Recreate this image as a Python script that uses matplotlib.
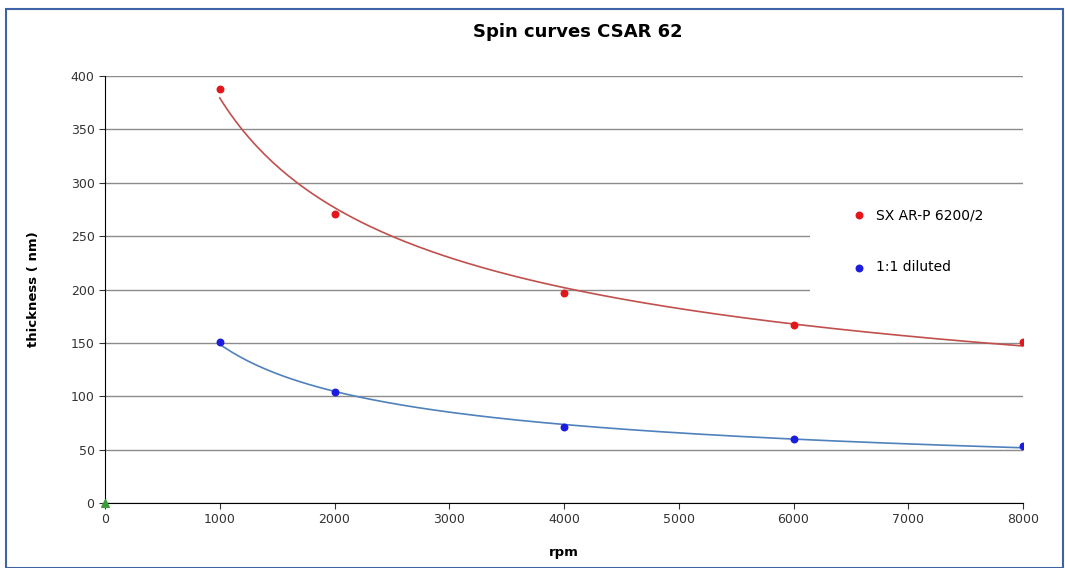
import numpy as np
import matplotlib
matplotlib.use("Agg")
import matplotlib.pyplot as plt
from matplotlib.patches import Rectangle

# measured spin curve points
rpm = [1000, 2000, 4000, 6000, 8000]
thick_full = [388, 271, 197, 167, 151]
thick_diluted = [151, 104, 71, 60, 53]
origin_x = [0]
origin_y = [0]

fig = plt.figure(figsize=(10.65, 5.68), dpi=100)
ax = fig.add_axes([0.0986, 0.1144, 0.862, 0.7518])

# power-law trend lines (like the spreadsheet trendline)
xs = np.linspace(1000, 8000, 200)
for y, col in [(thick_full, "#C0504D"), (thick_diluted, "#4F81BD")]:
    b, a = np.polyfit(np.log(rpm), np.log(y), 1)
    ax.plot(xs, np.exp(a) * xs ** b, color=col, lw=1.2, zorder=3)

ax.scatter(rpm, thick_full, s=22, color="#E3161B", zorder=4, label="SX AR-P 6200/2")
ax.scatter(rpm, thick_diluted, s=22, color="#1C1CE0", zorder=4, label="1:1 diluted")
ax.scatter(origin_x, origin_y, s=30, marker="^", color="#3C9A3C", zorder=5, clip_on=False)

ax.set_xlim(0, 8000)
ax.set_ylim(0, 400)
ax.set_xticks(range(0, 8001, 1000))
ax.set_yticks(range(0, 401, 50))
ax.yaxis.grid(True, color="#8C8C8C", lw=1)
ax.set_axisbelow(True)
for s in ["top", "right"]:
    ax.spines[s].set_visible(False)
ax.spines["left"].set_color("black")
ax.spines["bottom"].set_color("black")
ax.tick_params(labelsize=9, length=4, colors="#333333")

ax.set_xlabel("rpm", fontsize=9.5, fontweight="bold", labelpad=14)
ax.set_ylabel("thickness ( nm)", fontsize=9.5, fontweight="bold", labelpad=22)
fig.text(0.543, 0.944, "Spin curves CSAR 62", fontsize=13, fontweight="bold",
         ha="center", va="center")

# white legend area hiding the gridlines behind it
ax.add_patch(Rectangle((0.768, 0.47), 0.26, 0.25, transform=ax.transAxes,
                       facecolor="white", edgecolor="none", zorder=1, clip_on=False))

leg = ax.legend(loc="upper left", bbox_to_anchor=(0.8065, 0.707), borderaxespad=0,
                frameon=False, fontsize=10, labelspacing=2.75, handletextpad=0.7,
                borderpad=0.5, markerscale=1.0, handlelength=1.0)
leg.set_zorder(2.5)

fig.patches.append(Rectangle((0.006, 0.0), 0.992, 0.985, transform=fig.transFigure,
                             fill=False, edgecolor="#3E63A8", lw=1.5))

fig.savefig("out.png", dpi=100)
